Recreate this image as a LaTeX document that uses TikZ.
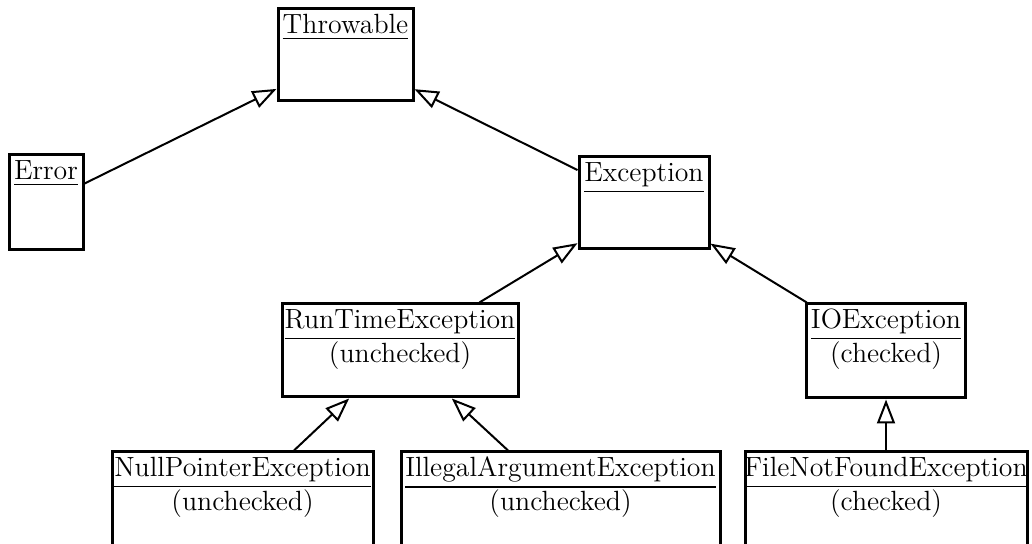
\documentclass[tikz,border=0pt]{standalone}
\usetikzlibrary{arrows.meta}
\newcommand\classfont{\fontsize{13.9pt}{16.5pt}\selectfont}
% underline with a firmer rule, set below the descenders
\newcommand\classul[1]{\leavevmode\vtop{\hbox{#1}\kern1.9pt\hrule height 0.9pt}}
\tikzset{
  classbox/.style={draw, line width=1.5pt, inner sep=0pt},
  classname/.style={anchor=base, inner sep=0pt, font=\classfont},
  inherit/.style={draw, line width=1pt,
    -{Triangle[open, length=12pt, width=9pt, line width=1pt]}},
}
\begin{document}
\begin{tikzpicture}[x=0.5pt, y=-0.5pt]
\path[use as bounding box, clip] (0,0) rectangle (1032,544);

% class boxes
\node[classbox, minimum width=67.5pt, minimum height=46pt]   (thr) at (345.5,55)  {};
\node[classbox, minimum width=37pt,   minimum height=47.5pt] (err) at (46,202.5)  {};
\node[classbox, minimum width=65pt,   minimum height=46pt]   (exc) at (644,203)   {};
\node[classbox, minimum width=118pt,  minimum height=46.5pt] (rte) at (400,350.5) {};
\node[classbox, minimum width=79.5pt, minimum height=47pt]   (ioe) at (886,351)   {};
\node[classbox, minimum width=130.5pt,minimum height=47pt]   (npe) at (242.5,499) {};
\node[classbox, minimum width=159.5pt,minimum height=47pt]   (iae) at (560.5,499) {};
\node[classbox, minimum width=141pt,  minimum height=47pt]   (fnf) at (886,499)   {};

% class names
\node[classname] (thr-name) at ([yshift=-13pt]thr.north) {\classul{Throwable}};
\node[classname] (err-name) at ([yshift=-13pt]err.north) {\classul{Error}};
\node[classname] (exc-name) at ([yshift=-13pt]exc.north) {\classul{Exception}};
\node[classname] (rte-name) at ([yshift=-13pt]rte.north) {\classul{RunTimeException}};
\node[classname] (ioe-name) at ([yshift=-13pt]ioe.north) {\classul{IOException}};
\node[classname] (npe-name) at ([yshift=-13pt]npe.north) {\classul{NullPointerException}};
\node[classname] (iae-name) at ([yshift=-13pt]iae.north) {\classul{IllegalArgumentException}};
\node[classname] (fnf-name) at ([yshift=-13pt]fnf.north) {\classul{FileNotFoundException}};

% checked / unchecked notes
\node[classname] (rte-kind) at ([yshift=-30pt]rte.north) {(unchecked)};
\node[classname] (ioe-kind) at ([yshift=-30pt]ioe.north) {(checked)};
\node[classname] (npe-kind) at ([yshift=-30pt]npe.north) {(unchecked)};
\node[classname] (iae-kind) at ([yshift=-30pt]iae.north) {(unchecked)};
\node[classname] (fnf-kind) at ([yshift=-30pt]fnf.north) {(checked)};

% inheritance arrows
\draw[inherit] (err) -- (thr);
\draw[inherit] (exc) -- (thr);
\draw[inherit] (rte) -- (exc);
\draw[inherit] (ioe) -- (exc);
\draw[inherit] (npe) -- (rte);
\draw[inherit] (iae) -- (rte);
\draw[inherit] (fnf) -- (ioe);
\end{tikzpicture}
\end{document}
